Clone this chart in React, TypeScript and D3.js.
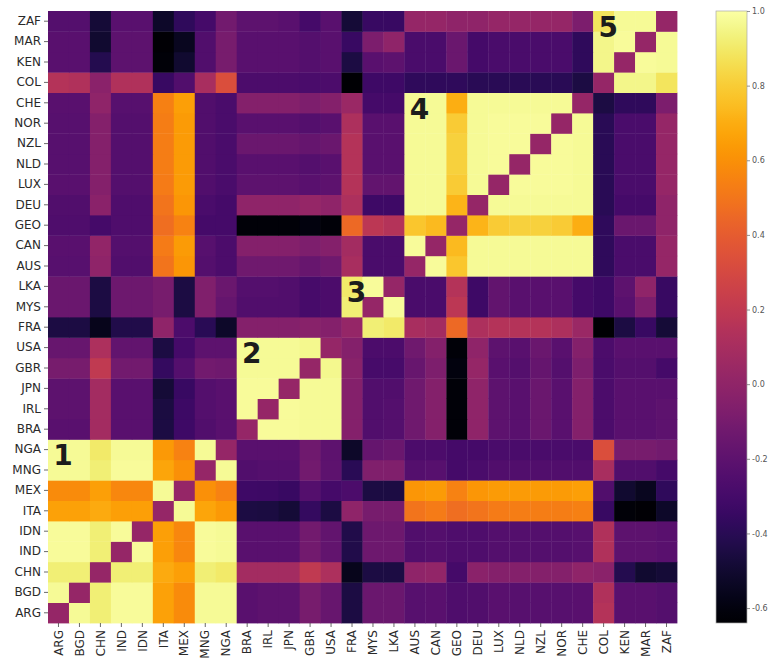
import React, { useEffect, useRef } from 'react';
import * as d3 from 'd3';

// country order, left to right on x and bottom to top on y
const countries = [
  'ARG', 'BGD', 'CHN', 'IND', 'IDN', 'ITA', 'MEX', 'MNG', 'NGA',
  'BRA', 'IRL', 'JPN', 'GBR', 'USA',
  'FRA', 'MYS', 'LKA',
  'AUS', 'CAN', 'GEO', 'DEU', 'LUX', 'NLD', 'NZL', 'NOR', 'CHE',
  'COL', 'KEN', 'MAR', 'ZAF',
];

// lower triangle of the matrix: row i holds the values for columns 0..i-1
const lowerRows: number[][] = [
  [],
  [0.97],
  [0.92, 0.92],
  [0.98, 0.98, 0.92],
  [0.98, 0.98, 0.92, 0.98],
  [0.66, 0.66, 0.69, 0.65, 0.65],
  [0.58, 0.58, 0.65, 0.57, 0.57, 0.97],
  [0.97, 0.97, 0.92, 0.98, 0.98, 0.67, 0.6],
  [0.97, 0.97, 0.9, 0.97, 0.97, 0.63, 0.55, 0.97],
  [-0.22, -0.22, 0.08, -0.22, -0.22, -0.45, -0.32, -0.25, -0.22],
  [-0.2, -0.2, 0.08, -0.22, -0.22, -0.46, -0.33, -0.24, -0.22, 0.98],
  [-0.2, -0.2, 0.08, -0.22, -0.22, -0.48, -0.35, -0.24, -0.22, 0.98, 0.98],
  [-0.1, -0.1, 0.2, -0.12, -0.12, -0.36, -0.24, -0.12, -0.13, 0.97, 0.97, 0.97],
  [-0.16, -0.16, 0.12, -0.18, -0.18, -0.45, -0.3, -0.2, -0.2, 0.97, 0.97, 0.97, 0.96],
  [-0.45, -0.45, -0.56, -0.43, -0.43, 0.0, -0.27, -0.4, -0.52, -0.05, -0.05, -0.05, -0.03, -0.05],
  [-0.15, -0.15, -0.45, -0.14, -0.14, -0.1, -0.45, -0.06, -0.17, -0.25, -0.25, -0.25, -0.29, -0.27, 0.92],
  [-0.15, -0.15, -0.45, -0.14, -0.14, -0.1, -0.45, -0.06, -0.15, -0.24, -0.24, -0.25, -0.29, -0.27, 0.9, 0.98],
  [-0.23, -0.23, 0.0, -0.25, -0.25, 0.5, 0.62, -0.24, -0.27, -0.13, -0.13, -0.13, -0.16, -0.13, 0.1, -0.28, -0.28],
  [-0.22, -0.22, 0.01, -0.24, -0.24, 0.52, 0.64, -0.23, -0.27, -0.05, -0.05, -0.05, -0.07, -0.05, 0.08, -0.28, -0.28, 0.98],
  [-0.26, -0.26, -0.3, -0.26, -0.26, 0.47, 0.55, -0.3, -0.3, -0.62, -0.62, -0.62, -0.6, -0.62, 0.45, 0.18, 0.15, 0.78, 0.74],
  [-0.25, -0.25, -0.02, -0.26, -0.26, 0.5, 0.62, -0.28, -0.3, 0.0, 0.0, 0.0, 0.02, 0.0, 0.12, -0.32, -0.32, 0.97, 0.97, 0.72],
  [-0.22, -0.22, -0.05, -0.24, -0.24, 0.52, 0.64, -0.25, -0.28, -0.2, -0.2, -0.2, -0.22, -0.2, 0.15, -0.18, -0.18, 0.97, 0.97, 0.8, 0.97],
  [-0.23, -0.23, -0.05, -0.24, -0.24, 0.53, 0.64, -0.25, -0.28, -0.22, -0.22, -0.22, -0.24, -0.22, 0.15, -0.22, -0.22, 0.97, 0.97, 0.82, 0.97, 0.98],
  [-0.23, -0.23, -0.05, -0.24, -0.24, 0.53, 0.64, -0.25, -0.28, -0.15, -0.15, -0.15, -0.17, -0.15, 0.15, -0.22, -0.22, 0.97, 0.97, 0.82, 0.97, 0.98, 0.98],
  [-0.23, -0.23, -0.05, -0.24, -0.24, 0.53, 0.64, -0.25, -0.28, -0.22, -0.22, -0.22, -0.24, -0.22, 0.12, -0.22, -0.22, 0.97, 0.97, 0.8, 0.97, 0.98, 0.98, 0.98],
  [-0.22, -0.22, 0.0, -0.23, -0.23, 0.54, 0.65, -0.25, -0.28, -0.05, -0.05, -0.05, -0.07, -0.05, 0.04, -0.3, -0.3, 0.97, 0.97, 0.7, 0.97, 0.97, 0.97, 0.97, 0.97],
  [0.15, 0.13, -0.02, 0.13, 0.13, -0.35, -0.25, 0.1, 0.33, -0.27, -0.27, -0.27, -0.28, -0.27, -0.64, -0.32, -0.32, -0.38, -0.38, -0.38, -0.4, -0.4, -0.4, -0.4, -0.4, -0.45],
  [-0.22, -0.22, -0.42, -0.2, -0.2, -0.62, -0.5, -0.25, -0.1, -0.22, -0.22, -0.22, -0.24, -0.22, -0.45, -0.22, -0.2, -0.28, -0.28, -0.15, -0.3, -0.28, -0.28, -0.28, -0.28, -0.38, 0.95],
  [-0.22, -0.22, -0.5, -0.2, -0.2, -0.63, -0.55, -0.25, -0.1, -0.22, -0.22, -0.22, -0.24, -0.22, -0.35, -0.08, 0.0, -0.28, -0.28, -0.15, -0.3, -0.28, -0.28, -0.28, -0.28, -0.38, 0.95, 0.98],
  [-0.24, -0.24, -0.48, -0.22, -0.22, -0.52, -0.38, -0.3, -0.12, -0.2, -0.2, -0.22, -0.3, -0.22, -0.48, -0.35, -0.35, 0.02, 0.02, 0.0, 0.0, 0.02, 0.02, 0.02, 0.02, -0.08, 0.88, 0.97, 0.97],
];

const diagonalValue = 0.02;

const colorbarTicks = [1.0, 0.8, 0.6, 0.4, 0.2, 0.0, -0.2, -0.4, -0.6];
const colorDomain = [-0.64, 1.0];

// numbered blocks: label, first country (left column) and last country (top row)
const clusterLabels = ['1', '2', '3', '4', '5'];
const clusterFirst = ['ARG', 'BRA', 'FRA', 'AUS', 'COL'];
const clusterLast = ['NGA', 'USA', 'LKA', 'CHE', 'ZAF'];

const WIDTH = 770;
const HEIGHT = 662;

const App = () => {
  const ref = useRef<SVGSVGElement>(null);

  useEffect(() => {
    const svg = d3.select(ref.current);
    svg.selectAll('*').remove();

    const left = 48, right = 677, top = 11, bottom = 623;

    const x = d3.scaleBand().domain(countries).range([left, right]);
    const y = d3.scaleBand().domain([...countries].reverse()).range([top, bottom]);
    const color = d3.scaleSequential(d3.interpolateInferno).domain(colorDomain);

    const value = (i: number, j: number) => {
      if (i === j) return diagonalValue;
      return i > j ? lowerRows[i][j] : lowerRows[j][i];
    };

    const cells: { r: string; c: string; v: number }[] = [];
    countries.forEach((r, i) => {
      countries.forEach((c, j) => {
        cells.push({ r, c, v: value(i, j) });
      });
    });

    svg.append('g')
      .selectAll('rect')
      .data(cells)
      .join('rect')
        .attr('x', d => x(d.c)!)
        .attr('y', d => y(d.r)!)
        .attr('width', x.bandwidth() + 0.4)
        .attr('height', y.bandwidth() + 0.4)
        .attr('fill', d => color(d.v));

    // cluster numbers
    svg.append('g')
      .selectAll('text')
      .data(clusterLabels)
      .join('text')
        .attr('x', (d, i) => x(clusterFirst[i])! + 15)
        .attr('y', (d, i) => y(clusterLast[i])! + 26)
        .attr('text-anchor', 'middle')
        .style('font-family', 'DejaVu Sans')
        .style('font-weight', 'bold')
        .style('font-size', '28px')
        .attr('fill', '#1c1c1c')
        .text(d => d);

    // y axis
    const yAxis = svg.append('g')
      .attr('transform', `translate(${left},0)`)
      .call(d3.axisLeft(y).tickSize(4).tickPadding(3));
    yAxis.select('.domain').remove();
    yAxis.selectAll('line').attr('stroke', '#444').attr('stroke-width', 0.8);
    yAxis.selectAll('text')
      .attr('fill', '#2a2a2a')
      .style('font-family', 'DejaVu Sans')
      .style('font-size', '12px');

    // x axis, rotated labels
    const xAxis = svg.append('g')
      .attr('transform', `translate(0,${bottom})`)
      .call(d3.axisBottom(x).tickSize(4).tickPadding(3));
    xAxis.select('.domain').remove();
    xAxis.selectAll('line').attr('stroke', '#444').attr('stroke-width', 0.8);
    xAxis.selectAll('text')
      .attr('transform', 'rotate(-90)')
      .attr('text-anchor', 'end')
      .attr('x', -7)
      .attr('y', 0)
      .attr('dy', '0.35em')
      .attr('fill', '#2a2a2a')
      .style('font-family', 'DejaVu Sans')
      .style('font-size', '12px');

    // colorbar
    const cbLeft = 716, cbWidth = 31;
    const cScale = d3.scaleLinear().domain(colorDomain).range([bottom, top]);

    const grad = svg.append('defs')
      .append('linearGradient')
      .attr('id', 'cb-grad')
      .attr('x1', 0).attr('y1', 1)
      .attr('x2', 0).attr('y2', 0);
    grad.selectAll('stop')
      .data(d3.range(0, 1.0001, 0.02))
      .join('stop')
        .attr('offset', d => d)
        .attr('stop-color', d => d3.interpolateInferno(d));

    svg.append('rect')
      .attr('x', cbLeft)
      .attr('y', top)
      .attr('width', cbWidth)
      .attr('height', bottom - top)
      .attr('fill', 'url(#cb-grad)')
      .attr('stroke', '#aaa')
      .attr('stroke-width', 0.7);

    const cAxis = svg.append('g')
      .attr('transform', `translate(${cbLeft + cbWidth},0)`)
      .call(d3.axisRight(cScale)
        .tickValues(colorbarTicks)
        .tickFormat(d => (+d).toFixed(1))
        .tickSize(3)
        .tickPadding(2));
    cAxis.select('.domain').remove();
    cAxis.selectAll('line').attr('stroke', '#666').attr('stroke-width', 0.7);
    cAxis.selectAll('text')
      .attr('fill', '#555')
      .style('font-family', 'DejaVu Sans')
      .style('font-size', '8px');
  }, []);

  return (
    <svg
      ref={ref}
      width={WIDTH}
      height={HEIGHT}
      style={{ position: 'absolute', left: 0, top: 0, background: '#fff' }}
    />
  );
};

export default App;
